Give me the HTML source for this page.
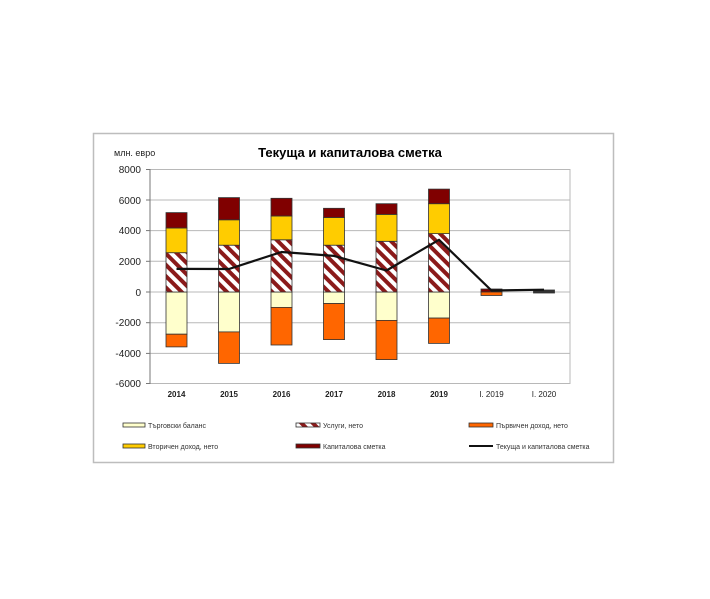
<!DOCTYPE html>
<html><head><meta charset="utf-8"><style>
html,body{margin:0;padding:0;background:#fff;}
svg{display:block;font-family:"Liberation Sans",sans-serif;}
</style></head><body>
<svg width="710" height="599" viewBox="0 0 710 599" xmlns="http://www.w3.org/2000/svg">
<defs>
<pattern id="hatch" patternUnits="userSpaceOnUse" width="8" height="8" patternTransform="rotate(-45)">
<rect width="8" height="8" fill="#fff"/>
<rect width="4" height="8" fill="#8b1a1a"/>
</pattern>
</defs>
<rect x="93.5" y="133.5" width="520" height="329" fill="#fff" stroke="#bdbdbd" stroke-width="1.5"/>
<text x="114" y="156" font-size="9" fill="#222">млн. евро</text>
<text x="350" y="157" font-size="13" font-weight="bold" text-anchor="middle" fill="#000">Текуща и капиталова сметка</text>
<g stroke="#b8b8b8" stroke-width="1">
<line x1="150" y1="169.5" x2="570" y2="169.5"/>
<line x1="150" y1="200" x2="570" y2="200"/>
<line x1="150" y1="230.6" x2="570" y2="230.6"/>
<line x1="150" y1="261.3" x2="570" y2="261.3"/>
<line x1="150" y1="292" x2="570" y2="292"/>
<line x1="150" y1="322.7" x2="570" y2="322.7"/>
<line x1="150" y1="353.4" x2="570" y2="353.4"/>
<line x1="150" y1="383.5" x2="570" y2="383.5"/>
<line x1="570" y1="169" x2="570" y2="384"/>
</g>
<g stroke="#777" stroke-width="1">
<line x1="150" y1="169" x2="150" y2="384"/>
<line x1="146" y1="169.5" x2="150" y2="169.5"/><line x1="146" y1="200" x2="150" y2="200"/>
<line x1="146" y1="230.6" x2="150" y2="230.6"/><line x1="146" y1="261.3" x2="150" y2="261.3"/>
<line x1="146" y1="292" x2="150" y2="292"/><line x1="146" y1="322.7" x2="150" y2="322.7"/>
<line x1="146" y1="353.4" x2="150" y2="353.4"/><line x1="146" y1="383.5" x2="150" y2="383.5"/>
</g>
<g font-size="10" text-anchor="end" fill="#222">
<text x="141" y="173">8000</text><text x="141" y="204">6000</text><text x="141" y="234">4000</text>
<text x="141" y="265">2000</text><text x="141" y="296">0</text><text x="141" y="326">-2000</text>
<text x="141" y="357">-4000</text><text x="141" y="387">-6000</text>
</g>
<g font-size="8" text-anchor="middle" fill="#222" font-weight="bold">
<text x="176.5" y="397">2014</text><text x="229" y="397">2015</text><text x="281.5" y="397">2016</text>
<text x="334" y="397">2017</text><text x="386.5" y="397">2018</text><text x="439" y="397">2019</text>
<text x="491.5" y="397" font-weight="normal">I. 2019</text><text x="544" y="397" font-weight="normal">I. 2020</text>
</g>
<g stroke="#333" stroke-width="0.8">
<rect x="166" y="292" width="21" height="42.2" fill="#ffffcc"/>
<rect x="166" y="334.2" width="21" height="12.7" fill="#ff6600"/>
<rect x="166" y="252.7" width="21" height="39.3" fill="url(#hatch)"/>
<rect x="166" y="228" width="21" height="24.7" fill="#ffcc00"/>
<rect x="166" y="212.6" width="21" height="15.4" fill="#800000"/>
<rect x="218.5" y="292" width="21" height="39.9" fill="#ffffcc"/>
<rect x="218.5" y="331.9" width="21" height="31.5" fill="#ff6600"/>
<rect x="218.5" y="245.2" width="21" height="46.8" fill="url(#hatch)"/>
<rect x="218.5" y="219.8" width="21" height="25.4" fill="#ffcc00"/>
<rect x="218.5" y="197.6" width="21" height="22.2" fill="#800000"/>
<rect x="271" y="292" width="21" height="15.4" fill="#ffffcc"/>
<rect x="271" y="307.4" width="21" height="37.6" fill="#ff6600"/>
<rect x="271" y="239.8" width="21" height="52.2" fill="url(#hatch)"/>
<rect x="271" y="216" width="21" height="23.8" fill="#ffcc00"/>
<rect x="271" y="198.3" width="21" height="17.7" fill="#800000"/>
<rect x="323.5" y="292" width="21" height="11.5" fill="#ffffcc"/>
<rect x="323.5" y="303.5" width="21" height="36.1" fill="#ff6600"/>
<rect x="323.5" y="245.2" width="21" height="46.8" fill="url(#hatch)"/>
<rect x="323.5" y="217.5" width="21" height="27.7" fill="#ffcc00"/>
<rect x="323.5" y="208.3" width="21" height="9.2" fill="#800000"/>
<rect x="376" y="292" width="21" height="28.4" fill="#ffffcc"/>
<rect x="376" y="320.4" width="21" height="39.2" fill="#ff6600"/>
<rect x="376" y="241.3" width="21" height="50.7" fill="url(#hatch)"/>
<rect x="376" y="214.4" width="21" height="26.9" fill="#ffcc00"/>
<rect x="376" y="203.7" width="21" height="10.7" fill="#800000"/>
<rect x="428.5" y="292" width="21" height="26.1" fill="#ffffcc"/>
<rect x="428.5" y="318.1" width="21" height="25.3" fill="#ff6600"/>
<rect x="428.5" y="233.6" width="21" height="58.4" fill="url(#hatch)"/>
<rect x="428.5" y="203.7" width="21" height="29.9" fill="#ffcc00"/>
<rect x="428.5" y="189.1" width="21" height="14.6" fill="#800000"/>
<rect x="481" y="289" width="21" height="3" fill="#800000"/>
<rect x="481" y="292" width="21" height="3.5" fill="#ff6600"/>
<rect x="533.5" y="290" width="21" height="3" fill="#333"/>
</g>
<polyline points="176.5,268.9 229,269 281.5,252 334,255.9 386.5,270.5 439,239.8 491.5,290.5 544,289.7" fill="none" stroke="#111" stroke-width="2.2" stroke-linejoin="round"/>
<g stroke="#333" stroke-width="0.8">
<rect x="123" y="423" width="22" height="4" fill="#ffffcc"/>
<rect x="296" y="423" width="24" height="4" fill="url(#hatch)"/>
<rect x="469" y="423" width="24" height="4" fill="#ff6600"/>
<rect x="123" y="444" width="22" height="4" fill="#ffcc00"/>
<rect x="296" y="444" width="24" height="4" fill="#800000"/>
</g>
<line x1="469" y1="446" x2="493" y2="446" stroke="#111" stroke-width="2"/>
<g font-size="7" fill="#333">
<text x="148" y="428">Търговски баланс</text>
<text x="323" y="428">Услуги, нето</text>
<text x="496" y="428">Първичен доход, нето</text>
<text x="148" y="449">Вторичен доход, нето</text>
<text x="323" y="449">Капиталова сметка</text>
<text x="496" y="449">Текуща и капиталова сметка</text>
</g>
</svg>
</body></html>
